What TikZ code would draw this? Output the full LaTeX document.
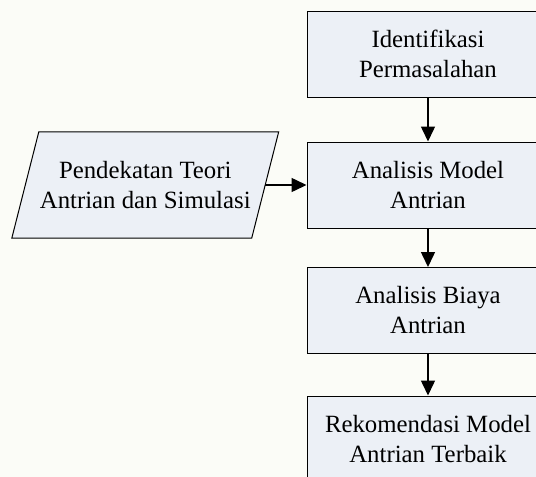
\documentclass[tikz,border=0pt]{standalone}
\usepackage{fontspec}
\setmainfont{Liberation Serif}
\usetikzlibrary{arrows.meta,backgrounds}
\definecolor{PaperTone}{RGB}{251,252,247}
\definecolor{BoxTone}{RGB}{236,240,246}

\begin{document}
\begin{tikzpicture}[x=1pt, y=-1pt, every node/.style={font=\fontsize{24.8}{30}\selectfont, align=center}]
  \useasboundingbox (0,0) rectangle (536,477);
  \clip (0,0) rectangle (536,477);
  \node[draw, line width=1pt, fill=BoxTone, minimum width=242pt, minimum height=86pt] (ident) at (428,54) {Identifikasi\\Permasalahan};
  \node[draw, line width=1pt, fill=BoxTone, minimum width=242pt, minimum height=86pt] (model) at (428,185) {Analisis Model\\Antrian};
  \node[draw, line width=1pt, fill=BoxTone, minimum width=242pt, minimum height=86pt] (biaya) at (428,310.5) {Analisis Biaya\\Antrian};
  \node[draw, line width=1pt, fill=BoxTone, minimum width=242pt, minimum height=86pt] (rekom) at (428,439) {Rekomendasi Model\\Antrian Terbaik};
  \node[minimum width=239.5pt, minimum height=106pt] (teori) at (145.25,185) {Pendekatan Teori\\Antrian dan Simulasi};
  \begin{scope}[on background layer]
    \fill[PaperTone] (0,0) rectangle (536,477);
    \draw[line width=1pt, fill=BoxTone] ([xshift=13.5pt]teori.north west) -- ([xshift=13.5pt]teori.north east) -- ([xshift=-13.5pt]teori.south east) -- ([xshift=-13.5pt]teori.south west) -- cycle;
  \end{scope}
  \draw[-{Triangle[width=14pt,length=15pt]}, line width=1.5pt] (ident) -- (model);
  \draw[-{Triangle[width=14pt,length=15pt]}, line width=1.5pt] (model) -- (biaya);
  \draw[-{Triangle[width=14pt,length=15pt]}, line width=1.5pt] (biaya) -- (rekom);
  \draw[-{Triangle[width=14pt,length=15pt]}, line width=1.5pt] (teori.east) -- (model);
\end{tikzpicture}
\end{document}
